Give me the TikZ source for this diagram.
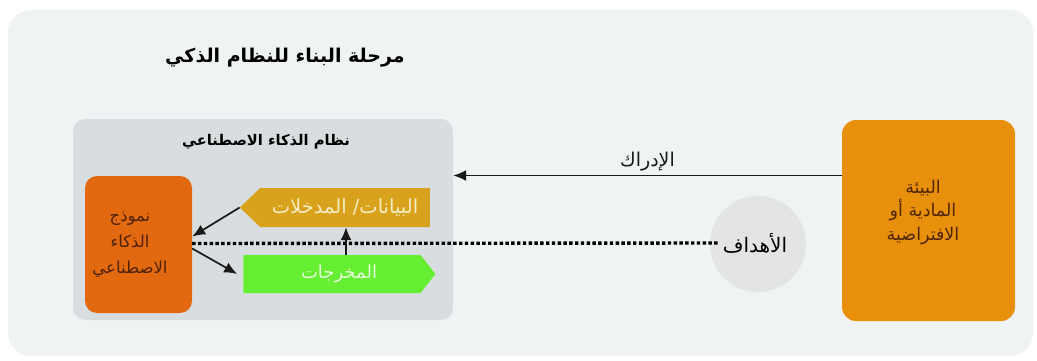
\documentclass[tikz,border=0pt]{standalone}
\usepackage{fontspec}
\usepackage{tikz}
\usetikzlibrary{arrows.meta, positioning, shapes.symbols}
\newfontfamily\arabicfont[Script=Arabic]{DejaVu Sans}
\TeXXeTstate=1
\newcommand{\artxt}[1]{\beginR #1\endR}
\definecolor{cbg}{HTML}{F0F3F4}
\definecolor{csys}{HTML}{D8DEDF}
\definecolor{cmodel}{HTML}{E2690F}
\definecolor{cmodeltxt}{HTML}{4E2206}
\definecolor{cdata}{HTML}{D8A21C}
\definecolor{cdatatxt}{HTML}{F5ECC4}
\definecolor{cout}{HTML}{66EE33}
\definecolor{couttxt}{HTML}{E4FFD6}
\definecolor{cenv}{HTML}{E8900C}
\definecolor{cenvtxt}{HTML}{4E2600}
\definecolor{cgoal}{HTML}{E2E4E5}
\tikzset{
  sysbox/.style={fill=csys, rounded corners=12pt, minimum width=380pt, minimum height=201pt, inner sep=0pt},
  modelbox/.style={fill=cmodel, rounded corners=12pt, minimum width=107pt, minimum height=137pt},
  databox/.style={signal, signal to=west, signal pointer angle=88, fill=cdata, text=cdatatxt,
                  minimum width=190pt, minimum height=39pt, inner sep=0pt, font=\arabicfont\fontsize{19.5}{22}\selectfont},
  outbox/.style={signal, signal to=east, signal pointer angle=104, fill=cout, text=couttxt,
                 minimum width=192pt, minimum height=38pt, inner sep=0pt, font=\arabicfont\fontsize{18}{20}\selectfont},
  envbox/.style={fill=cenv, rounded corners=14pt, minimum width=173pt, minimum height=201pt, inner sep=0pt},
  goalnode/.style={circle, fill=cgoal, minimum size=96pt, inner sep=0pt},
  arr/.style={-{Latex[length=13pt,width=11pt]}, line width=1.7pt, black!90},
  dotline/.style={line width=3.4pt, dash pattern=on 3.4pt off 2.4pt, black},
}
\begin{document}
\begin{tikzpicture}[x=1pt, y=-1pt]
  \useasboundingbox (0,0) rectangle (1037,361);
  \fill[white] (0,0) rectangle (1037,361);
  \fill[cbg, rounded corners=23pt] (8,10) rectangle (1033,356);

  \node[font=\arabicfont\bfseries\fontsize{19}{22}\selectfont] (title) at (285,58) {\artxt{مرحلة البناء للنظام الذكي}};

  \node[sysbox] (sys) at (263,219.5) {};
  \node[font=\arabicfont\bfseries\fontsize{14.7}{17}\selectfont] (systitle) at (266,142) {\artxt{نظام الذكاء الاصطناعي}};

  \node[modelbox] (model) at (138.5,244.5) {};
  \node[align=center, text=cmodeltxt, font=\arabicfont\fontsize{16.5}{26}\selectfont] (modeltxt) at (130,244.5)
    {\artxt{نموذج}\\\artxt{الذكاء}\\\artxt{الاصطناعي}};
  \node[databox] (data) at (345,207.5) {\artxt{البيانات/ المدخلات}};
  \node[outbox] (outs) at (332,274) {\hspace*{14pt}\artxt{المخرجات}};

  \node[goalnode] (goals) at (758,244) {};
  \node[font=\arabicfont\fontsize{20}{23}\selectfont] (goaltxt) at (755,243) {\artxt{الأهداف}};

  \node[envbox] (env) at (928.5,220.5) {};
  \node[align=center, text=cenvtxt, font=\arabicfont\fontsize{17.5}{23.5}\selectfont] (envtxt) at (923,212)
    {\artxt{البيئة}\\\artxt{المادية أو}\\\artxt{الافتراضية}};

  \draw[arr] ([yshift=45pt]env.west) -- ([yshift=45pt]env.west -| sys.east)
    node[midway, above=0pt, font=\arabicfont\fontsize{19}{22}\selectfont] (perc) {\artxt{الإدراك}};

  \draw[dotline] ([yshift=1pt]model.east) -- (goaltxt.west);
  \draw[arr] (data.west) -- ([yshift=8pt]model.east);
  \draw[arr] ([yshift=-4pt]model.east) -- ([xshift=-6pt]outs.west);
  \draw[arr] ([xshift=14pt]outs.north) -- ([xshift=14pt]outs.north |- data.south);
\end{tikzpicture}
\end{document}
